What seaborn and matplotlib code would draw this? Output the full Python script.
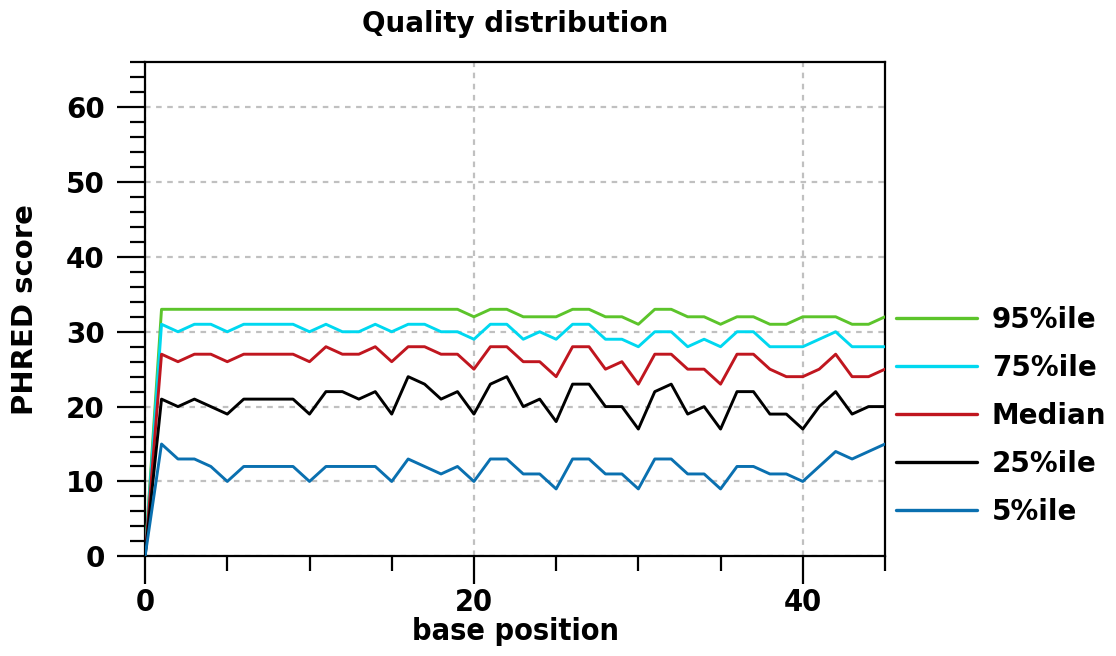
import numpy as np
import pandas as pd
import matplotlib
matplotlib.use("Agg")
import matplotlib.pyplot as plt
import seaborn as sns
from matplotlib.ticker import MultipleLocator

# per-position quality percentiles (positions 0..45)
positions = list(range(46))
p95 = [0, 33, 33, 33, 33, 33, 33, 33, 33, 33, 33, 33, 33, 33, 33, 33, 33, 33, 33, 33,
       32, 33, 33, 32, 32, 32, 33, 33, 32, 32, 31, 33, 33, 32, 32, 31, 32, 32, 31, 31,
       32, 32, 32, 31, 31, 32]
p75 = [0, 31, 30, 31, 31, 30, 31, 31, 31, 31, 30, 31, 30, 30, 31, 30, 31, 31, 30, 30,
       29, 31, 31, 29, 30, 29, 31, 31, 29, 29, 28, 30, 30, 28, 29, 28, 30, 30, 28, 28,
       28, 29, 30, 28, 28, 28]
median = [0, 27, 26, 27, 27, 26, 27, 27, 27, 27, 26, 28, 27, 27, 28, 26, 28, 28, 27, 27,
          25, 28, 28, 26, 26, 24, 28, 28, 25, 26, 23, 27, 27, 25, 25, 23, 27, 27, 25, 24,
          24, 25, 27, 24, 24, 25]
p25 = [0, 21, 20, 21, 20, 19, 21, 21, 21, 21, 19, 22, 22, 21, 22, 19, 24, 23, 21, 22,
       19, 23, 24, 20, 21, 18, 23, 23, 20, 20, 17, 22, 23, 19, 20, 17, 22, 22, 19, 19,
       17, 20, 22, 19, 20, 20]
p5 = [0, 15, 13, 13, 12, 10, 12, 12, 12, 12, 10, 12, 12, 12, 12, 10, 13, 12, 11, 12,
      10, 13, 13, 11, 11, 9, 13, 13, 11, 11, 9, 13, 13, 11, 11, 9, 12, 12, 11, 11,
      10, 12, 14, 13, 14, 15]

series_names = ["95%ile", "75%ile", "Median", "25%ile", "5%ile"]
series_colors = ["#5cc42b", "#00d8f0", "#c0161f", "#000000", "#0a70b0"]

df = pd.concat([
    pd.DataFrame({"pos": positions, "score": vals, "stat": name})
    for name, vals in zip(series_names, [p95, p75, median, p25, p5])
])

sns.set_style("white")
plt.rcParams['font.family'] = ['DejaVu Sans']
plt.rcParams['font.weight'] = 'bold'
for k in ['text.color', 'axes.labelcolor', 'xtick.color', 'ytick.color']:
    plt.rcParams[k] = 'black'

fig = plt.figure(figsize=(11.16, 6.56), dpi=100)
ax = fig.add_axes([0.130, 0.152, 0.663, 0.753])

sns.lineplot(data=df, x="pos", y="score", hue="stat", hue_order=series_names,
             palette=series_colors, linewidth=2.1, ax=ax, zorder=3)

ax.set_xlim(0, 45)
ax.set_ylim(0, 66)
ax.yaxis.set_major_locator(MultipleLocator(10))
ax.yaxis.set_minor_locator(MultipleLocator(2))
ax.xaxis.set_major_locator(MultipleLocator(20))
ax.xaxis.set_minor_locator(MultipleLocator(5))
ax.set_yticks([0, 10, 20, 30, 40, 50, 60])

ax.grid(True, which="major", color="#c0c0c0", linestyle=(0, (2.5, 2.5)), linewidth=1.6, zorder=0)
ax.tick_params(which="major", direction="out", length=20, width=1.6,
               left=True, bottom=True)
ax.tick_params(which="minor", direction="out", length=11, width=1.6, left=True, bottom=True)
ax.tick_params(axis="y", which="major", labelsize=20, pad=9)
ax.tick_params(axis="x", which="major", labelsize=22, pad=3)
for lab in ax.get_yticklabels():
    lab.set_fontweight("bold")
for lab in ax.get_xticklabels():
    lab.set_fontweight("bold")
    lab.set_fontstretch("condensed")
for sp in ax.spines.values():
    sp.set_color("black")
    sp.set_linewidth(1.6)

ax.set_title("Quality distribution", fontsize=20, fontweight="bold", pad=22)
ax.set_xlabel("base position", fontsize=22, fontweight="bold", fontstretch="condensed")
ax.xaxis.set_label_coords(0.5, -0.122)
ax.set_ylabel("PHRED score", fontsize=21, fontweight="bold")
ax.yaxis.set_label_coords(-0.143, 0.5)

leg = ax.legend(loc="center left", bbox_to_anchor=(1.0, 0.285), frameon=False,
                fontsize=20, handlelength=2.9, handletextpad=0.55, labelspacing=0.72,
                borderaxespad=0.0)
for t in leg.get_texts():
    t.set_fontweight("bold")
for h in leg.legend_handles:
    h.set_linewidth(2.4)

fig.savefig("out.png", dpi=100)
